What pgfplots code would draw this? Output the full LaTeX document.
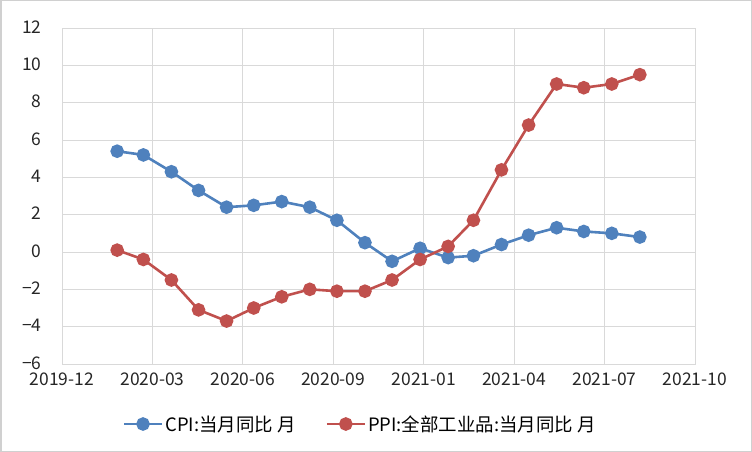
\documentclass[border=0pt]{standalone}
\usepackage{fontspec}
\setmainfont{Noto Sans CJK SC}
\usepackage{pgfplots}
\pgfplotsset{compat=1.18}
\definecolor{cpiblue}{HTML}{4F81BD}
\definecolor{ppired}{HTML}{C0504D}
\definecolor{gridgray}{HTML}{D9D9D9}
\definecolor{bordergray}{HTML}{D0D0D0}
\begin{document}
\begin{tikzpicture}
\useasboundingbox (0,0) rectangle (752bp,452bp);
\draw[bordergray, line width=1.5bp] (0.75bp,0.75bp) rectangle (751.25bp,451.25bp);
\begin{axis}[
  at={(62bp,88bp)}, anchor=south west,
  scale only axis, width=633bp, height=336bp,
  xmin=0, xmax=700, ymin=-6, ymax=12,
  xtick={0,100,...,700},
  xticklabels={2019-12,2020-03,2020-06,2020-09,2021-01,2021-04,2021-07,2021-10},
  ytick={-6,-4,...,12},
  yticklabels={−6,−4,−2,0,2,4,6,8,10,12},
  grid=major, major grid style={gridgray, line width=0.8bp},
  axis line style={gridgray, line width=0.8bp},
  tick style={draw=none},
  tick label style={font=\fontsize{17.5}{19}\selectfont, text=black!85},
  yticklabel style={xshift=-17bp, yshift=1bp},
  xticklabel style={yshift=-5bp},
  legend style={at={(0.471,-0.1786)}, anchor=center, draw=none, fill=none,
    legend columns=2, font=\fontsize{18.5}{20}\selectfont,
    /tikz/every even column/.append style={column sep=28bp}},
  legend image code/.code={\draw[mark repeat=2,mark phase=2,#1] plot coordinates {(0bp,0bp) (19bp,0bp) (38bp,0bp)};},
]
\addplot[cpiblue, line width=2.6bp, mark=*, mark size=5.5bp, mark options={fill=cpiblue, draw=cpiblue}] coordinates {
(61,5.4) (90,5.2) (121,4.3) (151,3.3) (182,2.4) (212,2.5) (243,2.7) (274,2.4) (304,1.7) (335,0.5)
(365,-0.5) (396,0.2) (427,-0.3) (455,-0.2) (486,0.4) (516,0.9) (547,1.3) (577,1.1) (608,1.0) (639,0.8)};
\addplot[ppired, line width=2.6bp, mark=*, mark size=5.5bp, mark options={fill=ppired, draw=ppired}] coordinates {
(61,0.1) (90,-0.4) (121,-1.5) (151,-3.1) (182,-3.7) (212,-3.0) (243,-2.4) (274,-2.0) (304,-2.1) (335,-2.1)
(365,-1.5) (396,-0.4) (427,0.3) (455,1.7) (486,4.4) (516,6.8) (547,9.0) (577,8.8) (608,9.0) (639,9.5)};
\legend{CPI:当月同比 月, PPI:全部工业品:当月同比 月}
\end{axis}
\end{tikzpicture}
\end{document}
